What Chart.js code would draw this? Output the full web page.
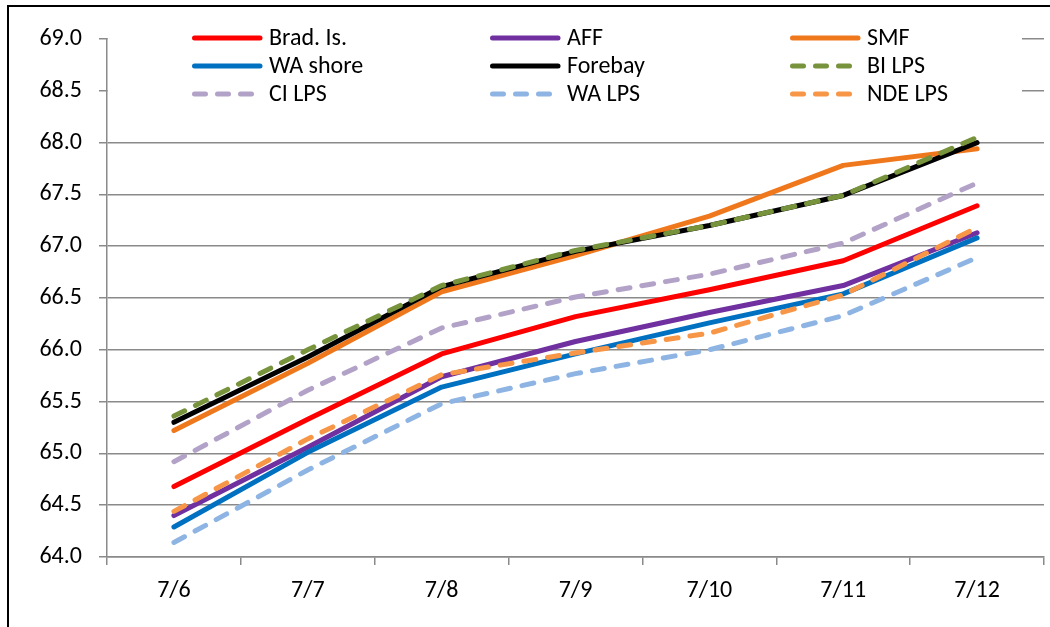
<!DOCTYPE html>
<html>
<head>
<meta charset="utf-8">
<script src="https://cdn.jsdelivr.net/npm/chart.js@4"></script>
<style>
  body { margin: 0; background: #fff; overflow: hidden; }
  #frame { position: absolute; left: 7px; top: 5px; width: 1100px; height: 700px;
           border-left: 2px solid #000; border-top: 2px solid #000; }
  #chart { position: absolute; left: 0; top: 0; }
</style>
</head>
<body>
<div id="frame"></div>
<canvas id="chart" width="1050" height="627"></canvas>
<script>
// dates along the x axis
const days = ['7/6', '7/7', '7/8', '7/9', '7/10', '7/11', '7/12'];

// series values
const bradIs  = [64.68, 65.33, 65.96, 66.32, 66.58, 66.86, 67.39];
const aff     = [64.40, 65.06, 65.74, 66.08, 66.36, 66.62, 67.13];
const smf     = [65.22, 65.87, 66.56, 66.91, 67.29, 67.78, 67.94];
const waShore = [64.29, 65.01, 65.64, 65.96, 66.26, 66.54, 67.08];
const forebay = [65.30, 65.93, 66.61, 66.95, 67.20, 67.49, 68.00];
const biLps   = [65.36, 66.00, 66.62, 66.96, 67.20, 67.49, 68.05];
const ciLps   = [64.92, 65.61, 66.21, 66.51, 66.73, 67.03, 67.61];
const waLps   = [64.14, 64.84, 65.48, 65.77, 66.00, 66.33, 66.89];
const ndeLps  = [64.44, 65.14, 65.76, 65.97, 66.16, 66.53, 67.18];

// y axis range
const yMin = 64, yMax = 69, yStep = 0.5;

const FONT = 'Carlito, Lato, sans-serif';
const FSIZE = 24;
const GRID = '#8a8a8a';
const DASH = [12, 12];

function series(label, data, color, dashed, i) {
  return {
    label: label,
    data: data,
    borderColor: color,
    backgroundColor: color,
    borderWidth: 5,
    borderDash: dashed ? DASH : [],
    borderCapStyle: 'round',
    borderJoinStyle: 'round',
    pointRadius: 0,
    tension: 0,
    fill: false,
    order: -i
  };
}

const datasets = [
  series('Brad. Is.', bradIs, '#ff0000', false, 0),
  series('AFF', aff, '#7030a0', false, 1),
  series('SMF', smf, '#f0781c', false, 2),
  series('WA shore', waShore, '#0070c0', false, 3),
  series('Forebay', forebay, '#000000', false, 4),
  series('BI LPS', biLps, '#77933c', true, 5),
  series('CI LPS', ciLps, '#b3a2c7', true, 6),
  series('WA LPS', waLps, '#8eb4e3', true, 7),
  series('NDE LPS', ndeLps, '#f79646', true, 8)
];

// legend sits inside the plot in a white box, 3 columns x 3 rows
const boxLegend = {
  id: 'boxLegend',
  afterDraw(chart) {
    const ctx = chart.ctx;
    const area = chart.chartArea;
    ctx.save();
    ctx.fillStyle = '#fff';
    ctx.fillRect(area.left + 1, 20, 1022 - area.left - 1, 88);
    const colX = [192, 490, 790];
    const rowY = [38, 66, 94];
    chart.data.datasets.forEach((ds, i) => {
      const x = colX[i % 3], y = rowY[Math.floor(i / 3)];
      ctx.beginPath();
      ctx.strokeStyle = ds.borderColor;
      ctx.lineWidth = 5;
      ctx.lineCap = 'round';
      ctx.setLineDash(ds.borderDash.length ? [11, 12] : []);
      ctx.moveTo(x + 2.5, y);
      ctx.lineTo(x + 68, y);
      ctx.stroke();
      ctx.setLineDash([]);
      ctx.fillStyle = '#000';
      ctx.font = FSIZE + 'px ' + FONT;
      ctx.textBaseline = 'middle';
      ctx.fillText(ds.label, x + 77, y + 1);
    });
    ctx.restore();
  }
};

new Chart(document.getElementById('chart'), {
  type: 'line',
  data: { labels: days, datasets: datasets },
  options: {
    responsive: false,
    animation: false,
    layout: { padding: { top: 39, right: 6, left: 0, bottom: 0 } },
    plugins: { legend: { display: false }, tooltip: { enabled: false } },
    scales: {
      x: {
        offset: true,
        grid: { offset: true, drawOnChartArea: false, color: GRID, lineWidth: 1.5, tickLength: 8 },
        border: { color: GRID, width: 1.5 },
        ticks: { color: '#000', font: { family: FONT, size: FSIZE }, padding: 12, maxRotation: 0 },
        afterFit(scale) { scale.height = 70; }
      },
      y: {
        min: yMin,
        max: yMax,
        ticks: {
          stepSize: yStep,
          color: '#000',
          font: { family: FONT, size: FSIZE },
          padding: 17,
          callback: v => v.toFixed(1)
        },
        grid: { color: GRID, lineWidth: 1.5, tickLength: 8 },
        border: { color: GRID, width: 1.5 },
        afterFit(scale) { scale.width = 107; }
      }
    }
  },
  plugins: [boxLegend]
});
</script>
</body>
</html>
